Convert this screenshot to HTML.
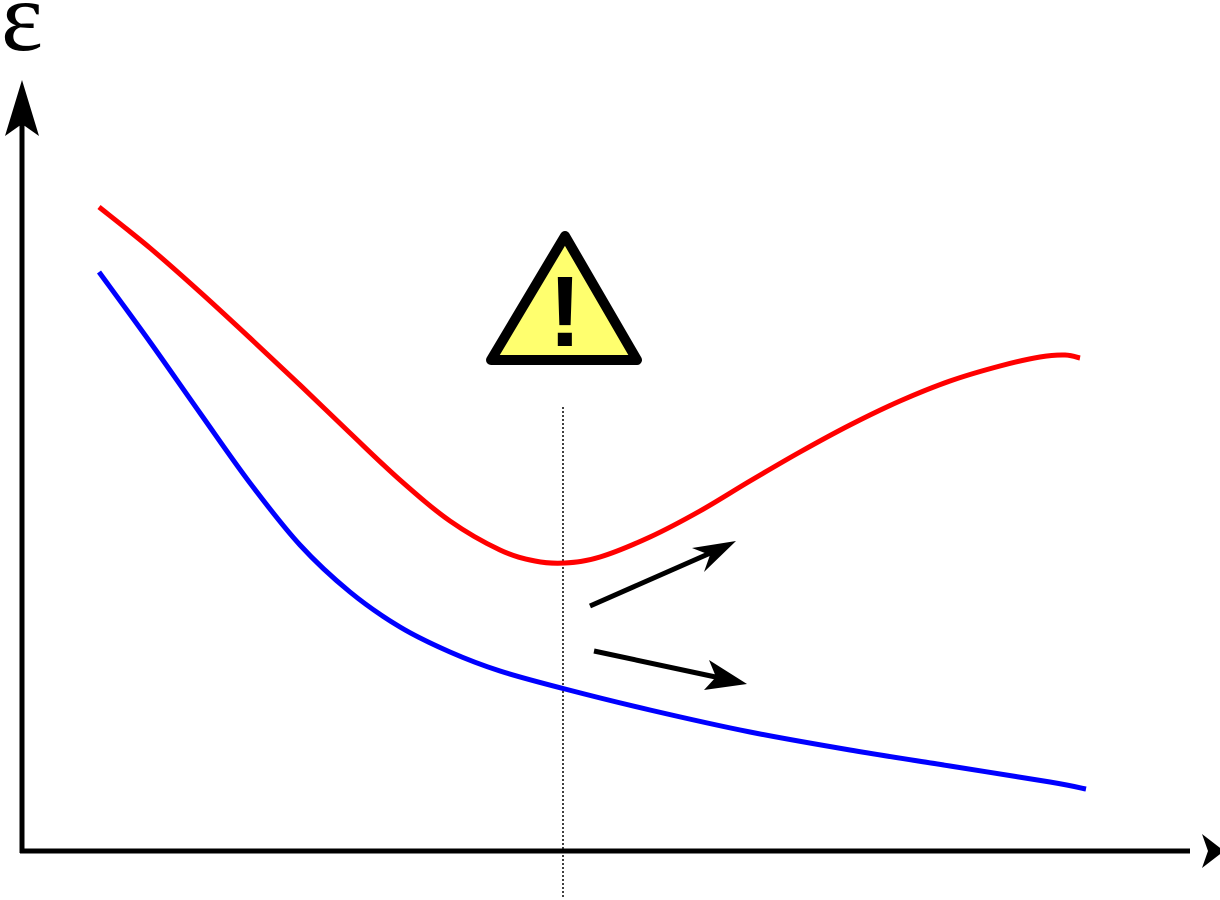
<!DOCTYPE html>
<html><head><meta charset="utf-8"><style>
html,body{margin:0;padding:0;background:#fff;width:1220px;height:900px;overflow:hidden}
svg{display:block}
</style></head><body>
<svg id="chart" width="1220" height="900" viewBox="0 0 1220 900">
  <text x="22" y="50" text-anchor="middle" font-family="'Liberation Serif',serif" font-size="100" fill="#000">ε</text>
  <g id="axes">
    <line x1="22" y1="853" x2="22" y2="118" stroke="#000" stroke-width="5"/>
    <path d="M22,80 L39,136 L22,124 L5,136 Z" fill="#000"/>
    <line x1="20" y1="851" x2="1190" y2="851" stroke="#000" stroke-width="5"/>
    <path d="M1224,851 L1202,834 L1208,851 L1202,868 Z" fill="#000"/>
  </g>
  <line x1="563" y1="407" x2="563" y2="898" stroke="#000" stroke-width="1.5" stroke-dasharray="2,2"/>
  <g>
    <path d="M565,236 L637,360 L491,360 Z" fill="#ffff6e" stroke="#000" stroke-width="10" stroke-linejoin="round"/>
    <text x="565" y="346" text-anchor="middle" font-family="'Liberation Sans',sans-serif" font-weight="bold" font-size="100" fill="#000">!</text>
  </g>
  <g id="curves"></g>
  <g>
    <line x1="590" y1="606" x2="715" y2="551" stroke="#000" stroke-width="5"/>
    <path d="M736,541 L704,572 L710,555 L692,548 Z" fill="#000"/>
    <line x1="594" y1="651" x2="725" y2="679" stroke="#000" stroke-width="5"/>
    <path d="M747,684 L704,690 L716,677 L709,660 Z" fill="#000"/>
  </g>
</svg>
<script>
const redX = [77,128,178,228,278,328,378,428,478,513,543,578,628,678,728,778,828,878,928,978,1018,1043,1058];
const redY = [644,603,559,513,466,418,371,330,301,290,288,294,314,340,370,399,426,450,470,485,494,496,493];
const blueX = [77,128,178,228,278,328,378,428,478,543,628,728,828,928,1028,1064];
const blueY = [579,509,438,368,306,259,224,199,180,162,141,119,101,85,69,62];

function xScale(v){ return 22 + v; }
function yScale(v){ return 851 - v; }

function smoothPath(xs, ys){
  const p = xs.map((x,i)=>[xScale(x), yScale(ys[i])]);
  let d = 'M' + p[0][0] + ',' + p[0][1];
  for (let i=0;i<p.length-1;i++){
    const p0 = p[Math.max(0,i-1)], p1 = p[i], p2 = p[i+1], p3 = p[Math.min(p.length-1,i+2)];
    const c1x = p1[0] + (p2[0]-p0[0])/6, c1y = p1[1] + (p2[1]-p0[1])/6;
    const c2x = p2[0] - (p3[0]-p1[0])/6, c2y = p2[1] - (p3[1]-p1[1])/6;
    d += ' C' + c1x + ',' + c1y + ' ' + c2x + ',' + c2y + ' ' + p2[0] + ',' + p2[1];
  }
  return d;
}
const g = document.getElementById('curves');
const ns = 'http://www.w3.org/2000/svg';
const red = document.createElementNS(ns,'path');
red.setAttribute('d', smoothPath(redX, redY));
red.setAttribute('fill','none');
red.setAttribute('stroke','#ff0000');
red.setAttribute('stroke-width','5');


g.appendChild(red);
const blue = document.createElementNS(ns,'path');
blue.setAttribute('d', smoothPath(blueX, blueY));
blue.setAttribute('fill','none');
blue.setAttribute('stroke','#0000ff');
blue.setAttribute('stroke-width','5');


g.appendChild(blue);
</script>
</body></html>
